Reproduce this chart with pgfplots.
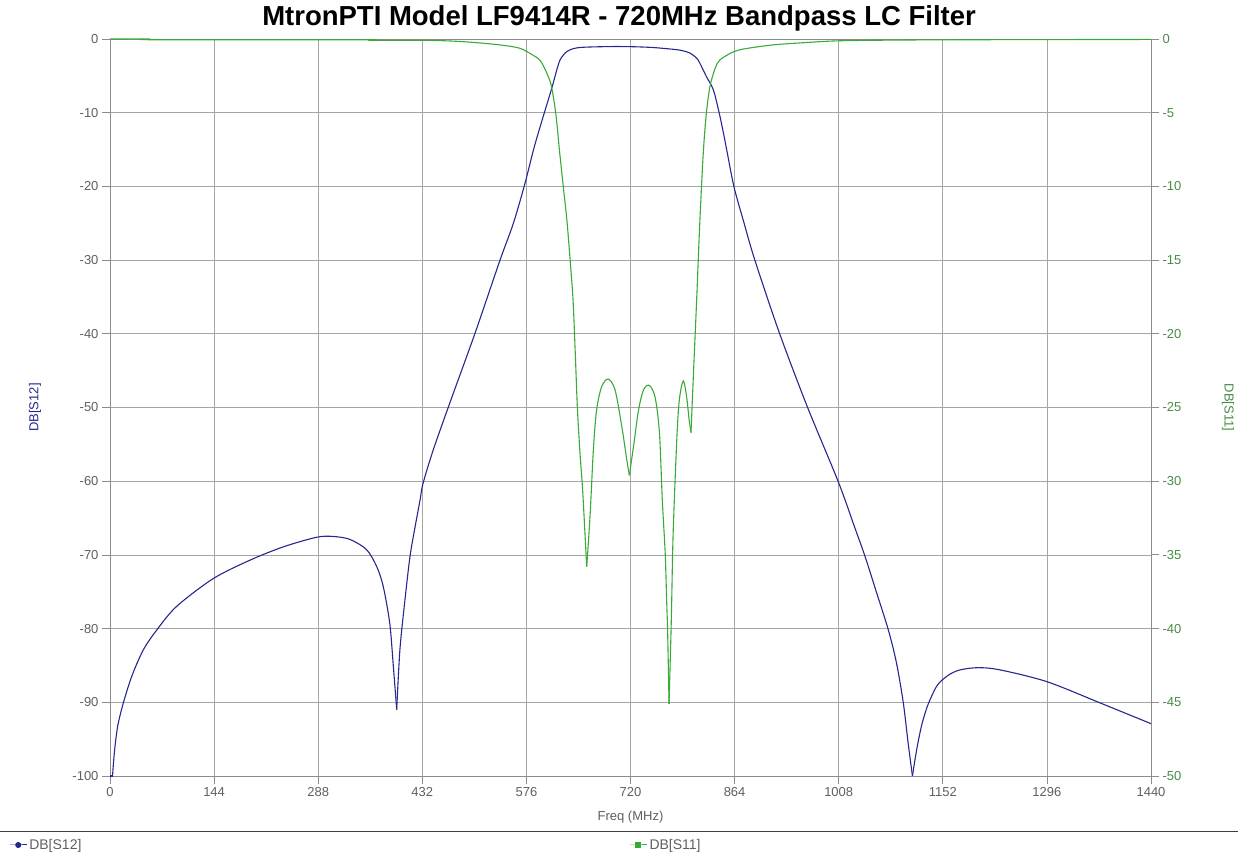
\documentclass[border=0pt]{standalone}
\usepackage{fontspec}
\setmainfont{Liberation Sans}
\usepackage{pgfplots}
\pgfplotsset{compat=1.18}
\definecolor{cS12}{RGB}{38,38,145}
\definecolor{cS11}{RGB}{55,170,55}
\definecolor{cS11t}{RGB}{70,140,70}
\definecolor{ctick}{RGB}{95,95,95}
\definecolor{cgrid}{RGB}{165,165,165}
\definecolor{caxis}{RGB}{140,140,140}
\begin{document}
\begin{tikzpicture}[x=1pt,y=1pt]
\path[use as bounding box] (0,0) rectangle (1238,854);
\pgfplotsset{
  common/.style={
    at={(110pt,78pt)}, anchor=south west, scale only axis,
    width=1041pt, height=737pt,
    xmin=0, xmax=1440,
    tick align=outside, major tick length=8pt,
    axis line style={caxis, line width=0.8pt},
    tick style={caxis, line width=0.8pt},
    ticklabel style={font=\fontsize{13}{15}\selectfont},
    /pgf/number format/assume math mode=true,
    /pgf/number format/set thousands separator={},
  },
  s12/.style={cS12, line width=1.1pt, forget plot},
  s11/.style={cS11, line width=1.1pt, forget plot},
}
\begin{axis}[common,
  ymin=-100, ymax=0,
  xtick={0,144,...,1440}, ytick={-100,-90,...,0},
  xtick pos=bottom, ytick pos=left,
  grid=major, major grid style={cgrid, line width=0.8pt},
  xticklabel style={color=ctick}, yticklabel style={color=ctick},
  xlabel={Freq (MHz)},
  xlabel style={font=\fontsize{13}{15}\selectfont, color=ctick, at={(axis description cs:0.5,-0.0556)}, anchor=center},
  ylabel={DB[S12]},
  ylabel style={font=\fontsize{13}{15}\selectfont, color=cS12, at={(axis description cs:-0.072,0.5)}, anchor=center},
  every axis title shift=0pt,
  title={MtronPTI Model LF9414R - 720MHz Bandpass LC Filter},
  title style={font=\bfseries\fontsize{27.5}{32}\selectfont, at={(axis description cs:0.489,1.0285)}, anchor=center},
  legend columns=2,
  legend style={draw=none, fill=none, inner sep=0pt, at={(axis description cs:-0.097,-0.0936)}, anchor=west,
    font=\fontsize{14}{16}\selectfont, text=ctick,
    /tikz/every even column/.append style={column sep=546pt}},
]
\addplot[s12] coordinates {(0,-100) (3.5,-100)};
\addplot[s12, smooth] coordinates {
(3.5,-100) (5,-98) (6.9,-96.0) (9,-94.3) (11.5,-92.8) (18.4,-90.1) (30,-86.5)
(46,-82.9) (64.6,-80.2) (92,-77.0) (143,-73.2) (194,-70.7) (240,-68.9) (286,-67.6)
(309,-67.5) (332,-67.9) (355,-69.3) (369,-71.6) (378,-74.3) (387,-79.3) (392,-85.2)
(396.6,-91.0)
};
\addplot[s12, smooth] coordinates {
(396.6,-91.0) (401,-82.9) (408,-76.1) (415,-70.2) (422,-66.2) (429,-62.5) (433,-60.3) (447,-55.8)
(470,-49.4) (505,-39.9) (539.5,-30.0) (558,-25.0) (574,-19.6) (585.6,-15.1) (595,-11.9)
(611,-6.7) (618,-4.2) (622.5,-2.85) (627,-2.2) (632,-1.7) (641,-1.3) (655,-1.12) (690,-1.03)
(719,-1.04) (750,-1.15) (779,-1.4) (790,-1.55) (802,-1.9) (811.5,-2.6) (816,-3.3) (825,-5.1)
(834.6,-6.9) (842.6,-10) (848,-12.5) (853,-15) (863,-20) (876,-24.6) (892,-30.0) (926,-39.9)
(964.6,-49.9) (1007.5,-60.1) (1030.6,-66.4) (1044.4,-70.2) (1060,-75) (1076.7,-80.2)
(1088,-84.7) (1097.4,-90.1) (1104,-95.5) (1110,-100)
};
\addplot[s12, smooth] coordinates {
(1110,-100) (1114,-97.5) (1118,-95.3) (1123,-93) (1129,-91) (1135,-89.5) (1145,-87.6)
(1160,-86.3) (1176,-85.6) (1201,-85.3) (1231,-85.6) (1296,-87.2) (1370,-90.1) (1440,-92.9)
};
\addlegendimage{cS12, line width=1pt, mark=*, mark size=2.5pt}
\addlegendentry{DB[S12]}
\addlegendimage{cS11, line width=1pt, mark=square*, mark size=2.5pt}
\addlegendentry{DB[S11]}
\end{axis}
\begin{axis}[common,
  ymin=-50, ymax=0,
  axis y line*=right, axis x line=none,
  ytick={-50,-45,...,0},
  yticklabel style={color=cS11t},
  ylabel={DB[S11]},
  ylabel style={font=\fontsize{13}{15}\selectfont, color=cS11t, rotate=180, at={(axis description cs:1.074,0.5)}, anchor=center},
]
\addplot[s11, smooth] coordinates {
(0,0) (55,0) (60,-0.05) (350,-0.05) (360,-0.09) (447,-0.1) (494,-0.2) (539,-0.4)
(567,-0.63) (585,-1.1) (595,-1.45) (605,-2.4) (611,-3.3) (617,-5.2)
(622,-7.7) (627,-10) (632,-12.3) (636.5,-15) (640.5,-17.7) (643.5,-21.2) (646.5,-25)
(650,-28) (653.4,-30.3) (656,-32.6) (659.4,-35.8)
};
\addplot[s11, smooth] coordinates {
(659.4,-35.8) (664,-32.4) (668.6,-27.9) (673,-25.2) (680,-23.6) (689,-23.07) (698.6,-23.8) (708,-26.3)
(715,-28.6) (718.4,-29.6)
};
\addplot[s11, smooth] coordinates {
(718.4,-29.6) (724,-27.7) (731,-25.2) (738,-23.8) (746,-23.5) (754,-24.3)
(760,-26.7) (764,-31.3) (768,-34.9) (770,-38.1) (771.4,-40.3) (773.3,-45.1)
};
\addplot[s11, smooth] coordinates {
(773.3,-45.1) (776,-40.3) (777,-38.1) (779,-33.5) (784,-27.2) (787.5,-24.5) (793,-23.2) (797.7,-24.3) (801,-25.8)
(803.7,-26.7)
};
\addplot[s11, smooth] coordinates {
(803.7,-26.7) (807,-22.8) (811.5,-17.7) (816,-12.3)
(820.7,-7.7) (825,-5) (830,-3.2) (837,-2) (844,-1.4) (863,-0.86) (880,-0.65) (917,-0.4)
(960,-0.25) (1010,-0.12) (1100,-0.07) (1200,-0.05) (1440,-0.03)
};
\end{axis}
\draw[black!75, line width=1pt] (0,23) -- (1238,23);
\end{tikzpicture}
\end{document}
